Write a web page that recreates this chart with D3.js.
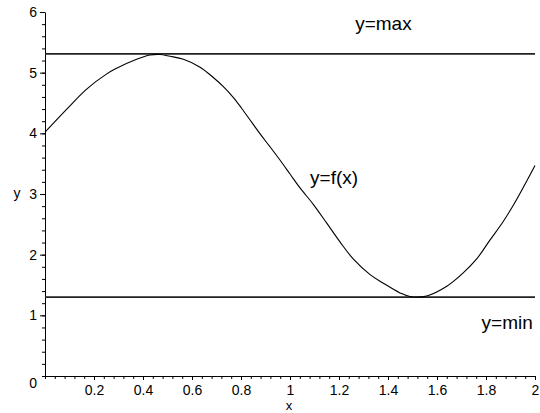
<!DOCTYPE html>
<html>
<head>
<meta charset="utf-8">
<script src="https://cdn.jsdelivr.net/npm/d3@7"></script>
<style>
  body { margin: 0; background: #fff; }
  svg text { font-family: "Liberation Sans", Arial, sans-serif; fill: #000; }
</style>
</head>
<body>
<div id="chart"></div>
<script>
"use strict"

// Curve samples.
const curve_x = [0, 0.089, 0.170, 0.252, 0.286, 0.374, 0.429, 0.469, 0.51, 0.565, 0.633, 0.687,
    0.728, 0.769, 0.803, 0.844, 0.878, 0.918, 0.959, 1.0, 1.041, 1.095, 1.150, 1.204, 1.258,
    1.327, 1.381, 1.449, 1.490, 1.558, 1.640, 1.707, 1.762, 1.816, 1.871, 1.925, 2.0];
const curve_y = [4.02, 4.40, 4.73, 4.98, 5.06, 5.22, 5.29, 5.30, 5.27, 5.22, 5.09, 4.92,
    4.77, 4.59, 4.41, 4.18, 3.99, 3.78, 3.56, 3.33, 3.10, 2.83, 2.52, 2.21, 1.93,
    1.67, 1.53, 1.37, 1.31, 1.32, 1.48, 1.70, 1.93, 2.24, 2.55, 2.91, 3.47];

const y_max = 5.31;
const y_min = 1.30;

const x_ticks = [0.2, 0.4, 0.6, 0.8, 1, 1.2, 1.4, 1.6, 1.8, 2];
const y_ticks = [1, 2, 3, 4, 5, 6];

const annotations = [
    {label: "y=max", x: 1.266, y: 5.7},
    {label: "y=f(x)", x: 1.082, y: 3.17},
    {label: "y=min", x: 1.782, y: 0.77}
];

let width = 540, height = 413;
let svg = d3.select("#chart").append("svg")
    .attr("width", width)
    .attr("height", height);

let x = d3.scaleLinear().domain([0, 2]).range([45, 535]);
let y = d3.scaleLinear().domain([0, 6]).range([376, 12]);
let fmt = d3.format("~g");

// Minor ticks first, no labels.
let x_minor = d3.range(0, 2.0001, 0.04);
svg.append("g")
    .attr("transform", "translate(0,376)")
    .call(d3.axisBottom(x).tickValues(x_minor).tickSize(3).tickSizeOuter(0).tickFormat(""))
    .call(g => g.select(".domain").remove());

let y_minor = d3.range(0, 6.0001, 0.2);
svg.append("g")
    .attr("transform", "translate(45,0)")
    .call(d3.axisLeft(y).tickValues(y_minor).tickSize(3).tickSizeOuter(0).tickFormat(""))
    .call(g => g.select(".domain").remove());

// Major ticks with labels.
let x_axis = svg.append("g")
    .attr("transform", "translate(0,376)")
    .call(d3.axisBottom(x).tickValues(x_ticks).tickSize(4).tickPadding(5).tickSizeOuter(0)
        .tickFormat(fmt));
x_axis.selectAll("text").style("font-size", "14px");

let y_axis = svg.append("g")
    .attr("transform", "translate(45,0)")
    .call(d3.axisLeft(y).tickValues(y_ticks).tickSize(5).tickPadding(3).tickSizeOuter(0)
        .tickFormat(fmt));
y_axis.selectAll("text").style("font-size", "14px");

svg.selectAll(".domain").attr("stroke", "#000");
svg.selectAll(".tick line").attr("stroke", "#000");

// The shared origin label sits below the corner.
svg.append("text")
    .attr("x", 37)
    .attr("y", 388)
    .attr("text-anchor", "end")
    .style("font-size", "14px")
    .text("0");

// Axis titles.
svg.append("text")
    .attr("x", 289)
    .attr("y", 410)
    .attr("text-anchor", "middle")
    .style("font-size", "13px")
    .text("x");
svg.append("text")
    .attr("x", 17)
    .attr("y", 198)
    .attr("text-anchor", "middle")
    .style("font-size", "14px")
    .text("y");

// Max / min reference lines.
svg.selectAll(".ref_line").data([y_max, y_min])
    .enter().append("line")
    .attr("class", "ref_line")
    .attr("x1", x(0))
    .attr("x2", x(2))
    .attr("y1", d => y(d))
    .attr("y2", d => y(d))
    .attr("stroke", "#222")
    .attr("stroke-width", 1.7);

// The function curve.
let points = curve_x.map((d, i) => [d, curve_y[i]]);
let line = d3.line()
    .x(d => x(d[0]))
    .y(d => y(d[1]))
    .curve(d3.curveCatmullRom);
svg.append("path")
    .datum(points)
    .attr("d", line)
    .attr("fill", "none")
    .attr("stroke", "#000")
    .attr("stroke-width", 1.1);

// Text annotations.
svg.selectAll(".note").data(annotations)
    .enter().append("text")
    .attr("class", "note")
    .attr("x", d => x(d.x))
    .attr("y", d => y(d.y))
    .style("font-size", "19px")
    .text(d => d.label);
</script>
</body>
</html>
